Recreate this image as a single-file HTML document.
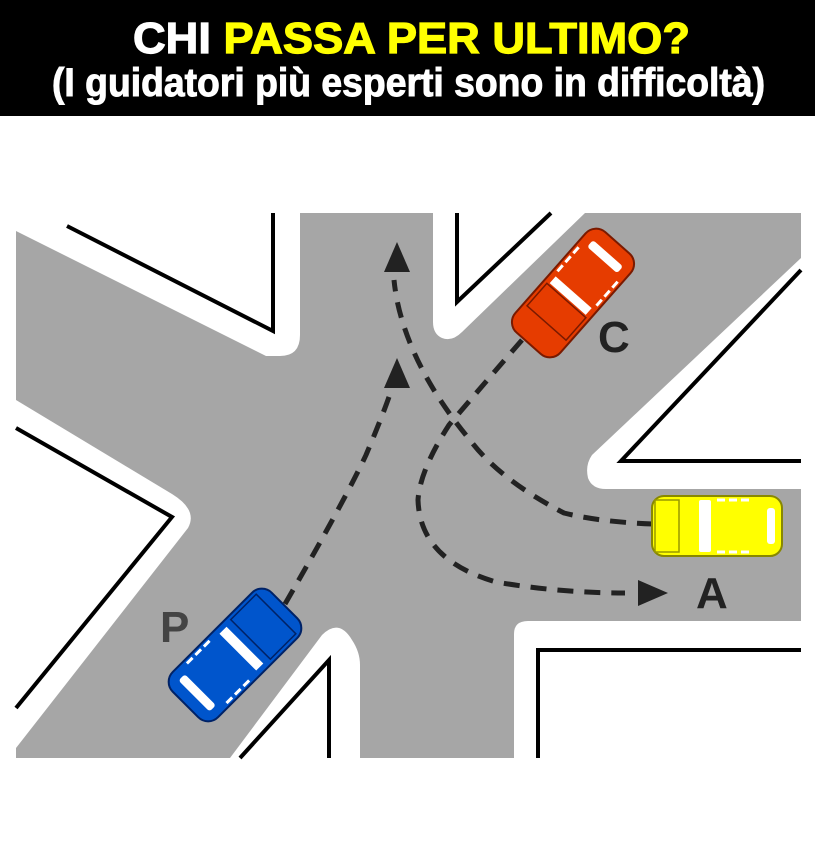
<!DOCTYPE html>
<html><head><meta charset="utf-8"><style>html,body{margin:0;padding:0;background:#fff}svg{display:block}</style></head>
<body>
<svg width="815" height="866" viewBox="0 0 815 866" xmlns="http://www.w3.org/2000/svg">
<rect x="0" y="0" width="815" height="866" fill="#fff"/>
<rect x="0" y="0" width="815" height="116" fill="#000"/>
<text y="53" font-family="Liberation Sans Narrow, Liberation Sans, sans-serif" font-weight="bold" font-size="44" x="133" textLength="557" lengthAdjust="spacingAndGlyphs" stroke-width="1.2"><tspan fill="#fff" stroke="#fff">CHI </tspan><tspan fill="#ffff00" stroke="#ffff00">PASSA PER ULTIMO?</tspan></text>
<text y="96" font-family="Liberation Sans Narrow, Liberation Sans, sans-serif" font-weight="bold" font-size="40" x="52" textLength="713" lengthAdjust="spacingAndGlyphs" fill="#fff" stroke="#fff" stroke-width="1">(I guidatori più esperti sono in difficoltà)</text>

<rect x="16" y="213" width="785" height="545" fill="#a6a6a6"/>
<path d="M16,213 L300,213 L300,335 Q300,356 280,356 L266,356 L16,231 Z" fill="#fff"/>
<path d="M433,213 L585,213 L462,332 Q452,342 442,338 Q433,334 433,322 Z" fill="#fff"/>
<path d="M801,258 L592,455 Q585,465 588,478 Q592,489 606,489 L801,489 Z" fill="#fff"/>
<path d="M514,758 L514,634 Q514,621 528,621 L801,621 L801,758 Z" fill="#fff"/>
<path d="M230,758 L322,635 Q339,618 352,640 Q360,652 360,665 L360,758 Z" fill="#fff"/>
<path d="M16,400 L172,494 Q198,510 188,528 L16,748 Z" fill="#fff"/>
<g fill="none" stroke="#000" stroke-width="4">
<polyline points="67,226 273,331 273,213"/>
<polyline points="457,213 457,302 551,213"/>
<polyline points="801,270 621,461 801,461"/>
<polyline points="538,758 538,650 801,650"/>
<polyline points="240,758 329,660 329,758"/>
<polyline points="16,428 172,517 16,708"/>
</g>

<g fill="none" stroke="#222" stroke-width="5" stroke-dasharray="16,11">
<path d="M285,604 Q345,500 366,455 Q385,410 392,388"/>
<path d="M522,340 Q470,400 449,425 Q420,470 418,500 Q420,560 496,582 Q560,593 625,593"/>
<path d="M653,524 Q600,522 564,513 Q500,480 470,440 Q420,380 402,320 Q396,300 394,280"/>
</g>
<g fill="#222">
<polygon points="397,358 384,388 410,388"/>
<polygon points="397,242 384,272 410,272"/>
<polygon points="668,593 638,580 638,606"/>
</g>

<g transform="translate(573,293) rotate(-48.6)">
<rect x="-67" y="-30" width="134" height="60" rx="14" fill="#e63c00" stroke="#7a1a00" stroke-width="2"/>
<rect x="-40" y="-26" width="30" height="52" fill="none" stroke="#7a1a00" stroke-width="1.5"/>
<rect x="-8" y="-24" width="9" height="48" fill="#fff"/>
<rect x="44" y="-20" width="9" height="40" fill="#fff" rx="3"/>
<line x1="6" y1="-26" x2="38" y2="-26" stroke="#fff" stroke-width="3" stroke-dasharray="8,4"/>
<line x1="6" y1="26" x2="38" y2="26" stroke="#fff" stroke-width="3" stroke-dasharray="8,4"/>
</g>
<g transform="translate(235,655) rotate(-45)">
<rect x="-70" y="-32" width="140" height="64" rx="14" fill="#0055cc" stroke="#002266" stroke-width="2"/>
<rect x="22" y="-28" width="36" height="56" fill="none" stroke="#002266" stroke-width="1.5"/>
<rect x="4" y="-26" width="10" height="52" fill="#fff"/>
<rect x="-58" y="-22" width="9" height="44" fill="#fff" rx="3"/>
<line x1="-40" y1="-28" x2="-6" y2="-28" stroke="#fff" stroke-width="3" stroke-dasharray="8,4"/>
<line x1="-40" y1="28" x2="-6" y2="28" stroke="#fff" stroke-width="3" stroke-dasharray="8,4"/>
</g>
<g transform="translate(717,526)">
<rect x="-65" y="-30" width="130" height="60" rx="12" fill="#ffff00" stroke="#888800" stroke-width="2"/>
<rect x="-62" y="-26" width="24" height="52" fill="none" stroke="#999900" stroke-width="1.5"/>
<rect x="-18" y="-26" width="12" height="52" fill="#fff" rx="2"/>
<rect x="50" y="-18" width="8" height="36" fill="#fff" rx="3"/>
<line x1="0" y1="-26" x2="36" y2="-26" stroke="#fff" stroke-width="3" stroke-dasharray="8,4"/>
<line x1="0" y1="26" x2="36" y2="26" stroke="#fff" stroke-width="3" stroke-dasharray="8,4"/>
</g>

<g font-family="Liberation Sans, sans-serif" font-weight="bold" font-size="44">
<text x="598" y="352" fill="#222">C</text>
<text x="696" y="608" fill="#222">A</text>
<text x="160" y="642" fill="#444">P</text>
</g>
</svg>
</body></html>
